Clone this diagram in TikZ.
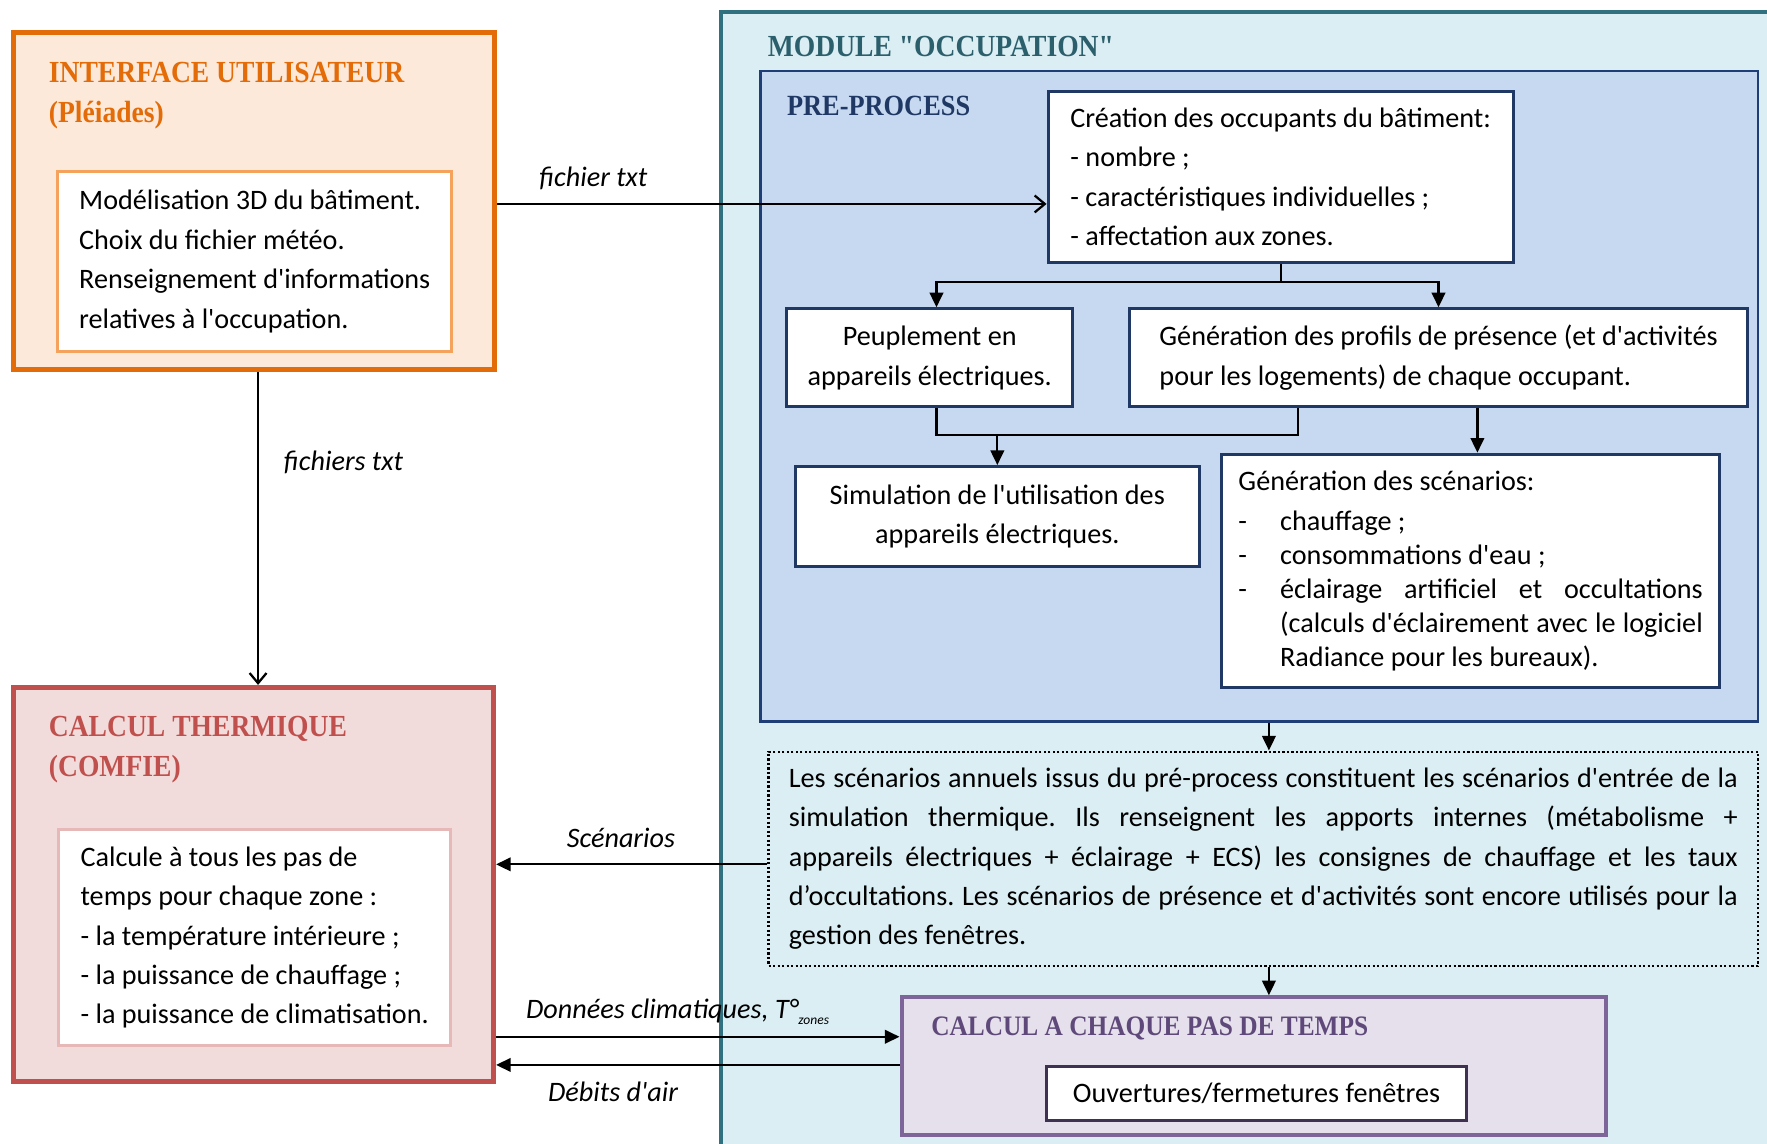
\documentclass[tikz,border=0pt]{standalone}
\usepackage{fontspec}
\usetikzlibrary{arrows.meta}
\newfontfamily\bodyfont{Carlito}
\newfontfamily\headfont[FakeStretch=0.9]{Liberation Serif}
\definecolor{orgline}{HTML}{E36C09}
\definecolor{orgfill}{HTML}{FDE9D9}
\definecolor{orglight}{HTML}{F5A35C}
\definecolor{tealline}{HTML}{31707F}
\definecolor{tealfill}{HTML}{DAEEF3}
\definecolor{tealtext}{HTML}{2C5F6C}
\definecolor{prepfill}{HTML}{C6D9F1}
\definecolor{prepline}{HTML}{1F3E78}
\definecolor{preptext}{HTML}{1F3864}
\definecolor{redline}{HTML}{C0504D}
\definecolor{redfill}{HTML}{F2DCDB}
\definecolor{redlight}{HTML}{E6B9B8}
\definecolor{purpline}{HTML}{7D6599}
\definecolor{purpfill}{HTML}{E5E0EC}
\definecolor{purptext}{HTML}{5F497A}
\definecolor{purpdark}{HTML}{3F3151}
\begin{document}
\begin{tikzpicture}[x=0.5pt,y=-0.5pt,
    font=\bodyfont\fontsize{12.5}{17.5}\selectfont,
    frame/.style={draw=#1, inner sep=0pt},
    wbox/.style={draw=#1, fill=white, line width=1.3pt, inner sep=0pt, align=left},
    title/.style={anchor=west, inner sep=0pt, align=left,
      font=\headfont\bfseries\fontsize{13.6}{17.5}\selectfont},
    lbl/.style={inner sep=1pt, font=\bodyfont\itshape\fontsize{12.5}{14}\selectfont},
    arr/.style={line width=1pt, -{Triangle[length=6.5pt,width=6pt]}},
    varr/.style={line width=1pt, -{Straight Barb[length=4.5pt,width=7.5pt]}}]
  \clip (0,0) rectangle (1568,1015);
  \fill[white] (0,0) rectangle (1568,1015);

  % module occupation
  \node[frame=tealline, fill=tealfill, line width=1.8pt,
    minimum width=467.5pt, minimum height=509.5pt] (module) at (1107.5,520.5) {};
  \node[title, text=tealtext] (moduletitle) at (681,41) {MODULE "OCCUPATION"};

  \node[frame=prepline, fill=prepfill, line width=1.3pt,
    minimum width=442.5pt, minimum height=288.5pt] (prep) at (1117.5,351.5) {};
  \node[title, text=preptext, font=\headfont\bfseries\fontsize{13}{16}\selectfont]
    (preptitle) at (698,94) {PRE-PROCESS};

  \node[wbox=preptext, minimum width=206.5pt, minimum height=76pt] (crea) at (1136.5,157)
    {Création des occupants du bâtiment:\\- nombre ;\\- caractéristiques individuelles ;\\- affectation aux zones.};
  \node[wbox=preptext, align=center, minimum width=127pt, minimum height=43.5pt] (peup) at (825,317.5)
    {Peuplement en\\appareils électriques.};
  \node[wbox=preptext, minimum width=274.5pt, minimum height=43.5pt] (prof) at (1276.5,317.5)
    {Génération des profils de présence (et d'activités\\pour les logements) de chaque occupant.};
  \node[wbox=preptext, align=center, minimum width=179pt, minimum height=44.5pt] (simu) at (885,458.5)
    {Simulation de l'utilisation des\\appareils électriques.};
  \node[wbox=preptext, align=justify, text width=206pt, minimum width=221pt, minimum height=103.5pt,
    font=\bodyfont\fontsize{12.5}{15}\selectfont] (scen) at (1305,506.5)
    {\hyphenpenalty=10000 Génération des scénarios:\par\vspace{3pt}
     \makebox[18.5pt][l]{-}chauffage ;\par
     \makebox[18.5pt][l]{-}consommations d'eau ;\par
     \hangindent=18.5pt\hangafter=1\makebox[18.5pt][l]{-}éclairage artificiel et occultations\linebreak
     (calculs d'éclairement avec le logiciel\linebreak Radiance pour les bureaux).\par};

  \node[draw, line width=1pt, dash pattern=on 1pt off 1pt, inner sep=0pt,
    align=justify, text width=421pt, minimum width=439pt, minimum height=95pt] (annu) at (1121,762)
    {\frenchspacing\hyphenpenalty=10000\exhyphenpenalty=10000
     Les scénarios annuels issus du pré-process constituent les scénarios d'entrée de la\linebreak
     simulation thermique. Ils renseignent les apports internes (métabolisme +\linebreak
     appareils électriques + éclairage + ECS) les consignes de chauffage et les taux\linebreak
     d’occultations. Les scénarios de présence et d'activités sont encore utilisés pour la\linebreak
     gestion des fenêtres.};

  \node[frame=purpline, fill=purpfill, line width=1.8pt,
    minimum width=312.5pt, minimum height=61pt] (pas) at (1112.5,946) {};
  \node[title, text=purptext, font=\headfont\bfseries\fontsize{12.5}{15}\selectfont]
    (pastitle) at (826,913) {CALCUL A CHAQUE PAS DE TEMPS};
  \node[wbox=purpdark, minimum width=186pt, minimum height=24pt] (ouv) at (1115,970)
    {Ouvertures/fermetures fenêtres};

  % interface utilisateur
  \node[frame=orgline, fill=orgfill, line width=2.2pt,
    minimum width=213.5pt, minimum height=149.5pt] (iface) at (225.5,178.5) {};
  \node[title, text=orgline] (ifacetitle) at (43,85) {INTERFACE UTILISATEUR\\(Pléiades)};
  \node[wbox=orglight, minimum width=175pt, minimum height=80pt] (ifacein) at (226,232)
    {Modélisation 3D du bâtiment.\\Choix du fichier météo.\\Renseignement d'informations\\relatives à l'occupation.};

  % calcul thermique
  \node[frame=redline, fill=redfill, line width=2.2pt,
    minimum width=213pt, minimum height=175pt] (therm) at (225,785) {};
  \node[title, text=redline] (thermtitle) at (43,665) {CALCUL THERMIQUE\\(COMFIE)};
  \node[wbox=redlight, minimum width=174pt, minimum height=96pt] (thermin) at (226,832)
    {Calcule à tous les pas de\\temps pour chaque zone :\\- la température intérieure ;\\- la puissance de chauffage ;\\- la puissance de climatisation.};

  % connecteurs
  \draw[varr] (iface.east|-0,181) -- node[lbl, above=5pt, pos=0.175] (lfich) {fichier txt} (crea.west|-0,181);
  \draw[varr] (iface.south-|229,0) -- node[lbl, anchor=west, xshift=10pt, pos=0.29] (lfichs) {fichiers txt} (therm.north-|229,0);

  \coordinate (split) at (crea.south|-0,250);
  \draw[line width=1pt] (crea.south) -- (split);
  \draw[arr] (split) -| (peup.north-|831,0);
  \draw[arr] (split) -| (prof.north);
  \draw[line width=1pt] (peup.south-|831,0) -- (831,386) -- (1152,386) -- (prof.south-|1152,0);
  \draw[arr] (simu.north|-0,386) -- (simu.north);
  \draw[arr] (prof.south-|1311,0) -- (scen.north-|1311,0);

  \draw[arr] (prep.south-|1126,0) -- (annu.north-|1126,0);
  \draw[arr] (annu.south-|1126,0) -- (pas.north-|1126,0);

  \draw[arr] (annu.west|-0,767) -- node[lbl, above=6pt, pos=0.54] (lscen) {Scénarios} (therm.east|-0,767);
  \draw[arr] (therm.east|-0,920) -- node[lbl, above=4pt, pos=0.45] (ldon)
    {Données climatiques, T°\raisebox{-0.4ex}{\fontsize{6}{6}\selectfont zones}} (pas.west|-0,920);
  \draw[arr] (pas.west|-0,945) -- node[lbl, below=6pt, pos=0.71] (ldeb) {Débits d'air} (therm.east|-0,945);
\end{tikzpicture}
\end{document}
